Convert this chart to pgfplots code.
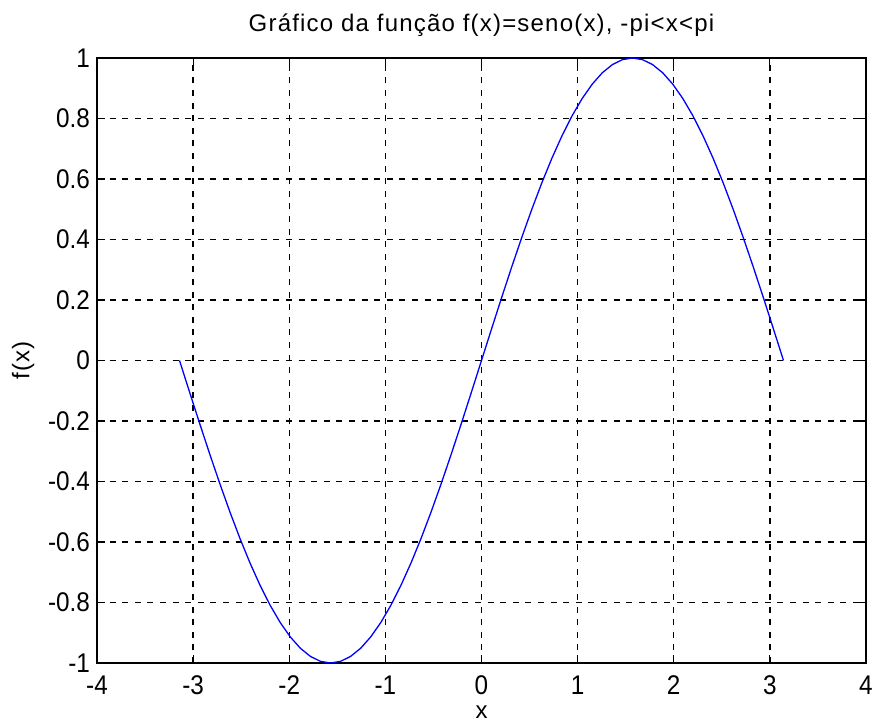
\documentclass[border=0pt]{standalone}
\usepackage{pgfplots}
\pgfplotsset{compat=1.18}
\usepackage{fontspec}
\setmainfont{Liberation Sans}
\newfontfamily\ticfont[FakeStretch=0.9]{Liberation Sans}
\newfontfamily\titfont[LetterSpace=5]{Liberation Sans}
\begin{document}
\begin{tikzpicture}
\useasboundingbox (-48.5pt,-32pt) rectangle (387.5pt,331.5pt);
\begin{axis}[
  at={(0,0)}, anchor=south west,
  scale only axis,
  width=384.5pt, height=302.5pt,
  xmin=-4, xmax=4, ymin=-1, ymax=1,
  xtick={-4,-3,...,4},
  ytick={-1,-0.8,-0.6,-0.4,-0.2,0,0.2,0.4,0.6,0.8,1},
  /pgf/number format/assume math mode=true,
  /pgf/number format/fixed,
  tick label style={font=\ticfont\fontsize{13.5}{15}\selectfont},
  xticklabel style={yshift=-3pt},
  grid=major,
  major grid style={black, line width=0.65pt, dash pattern=on 3pt off 3.3pt},
  axis line style={black, line width=0.65pt},
  major tick length=4pt,
  tick style={black, line width=0.6pt},
  tick align=inside,
  title={Gráfico da função f(x)=seno(x), -pi<x<pi},
  title style={font=\titfont\fontsize{12}{14}\selectfont, yshift=1pt},
  xlabel={x}, ylabel={f(x)},
  label style={font=\titfont\fontsize{12}{14}\selectfont},
  xlabel style={yshift=-1pt, inner sep=1pt},
  ylabel style={yshift=0pt},
]
\addplot[color={rgb,255:red,0;green,0;blue,255}, line width=0.65pt] coordinates {
(-3.1416,0) (-3.0369,-0.1045) (-2.9322,-0.2079) (-2.8274,-0.3090) (-2.7227,-0.4067)
(-2.6180,-0.5) (-2.5133,-0.5878) (-2.4086,-0.6691) (-2.3038,-0.7431) (-2.1991,-0.8090)
(-2.0944,-0.8660) (-1.9897,-0.9135) (-1.8850,-0.9511) (-1.7802,-0.9781) (-1.6755,-0.9945)
(-1.5708,-1) (-1.4661,-0.9945) (-1.3614,-0.9781) (-1.2566,-0.9511) (-1.1519,-0.9135)
(-1.0472,-0.8660) (-0.9425,-0.8090) (-0.8378,-0.7431) (-0.7330,-0.6691) (-0.6283,-0.5878)
(-0.5236,-0.5) (-0.4189,-0.4067) (-0.3142,-0.3090) (-0.2094,-0.2079) (-0.1047,-0.1045)
(0,0)
(0.1047,0.1045) (0.2094,0.2079) (0.3142,0.3090) (0.4189,0.4067) (0.5236,0.5)
(0.6283,0.5878) (0.7330,0.6691) (0.8378,0.7431) (0.9425,0.8090) (1.0472,0.8660)
(1.1519,0.9135) (1.2566,0.9511) (1.3614,0.9781) (1.4661,0.9945) (1.5708,1)
(1.6755,0.9945) (1.7802,0.9781) (1.8850,0.9511) (1.9897,0.9135) (2.0944,0.8660)
(2.1991,0.8090) (2.3038,0.7431) (2.4086,0.6691) (2.5133,0.5878) (2.6180,0.5)
(2.7227,0.4067) (2.8274,0.3090) (2.9322,0.2079) (3.0369,0.1045) (3.1416,0)
};
\end{axis}
\end{tikzpicture}
\end{document}
